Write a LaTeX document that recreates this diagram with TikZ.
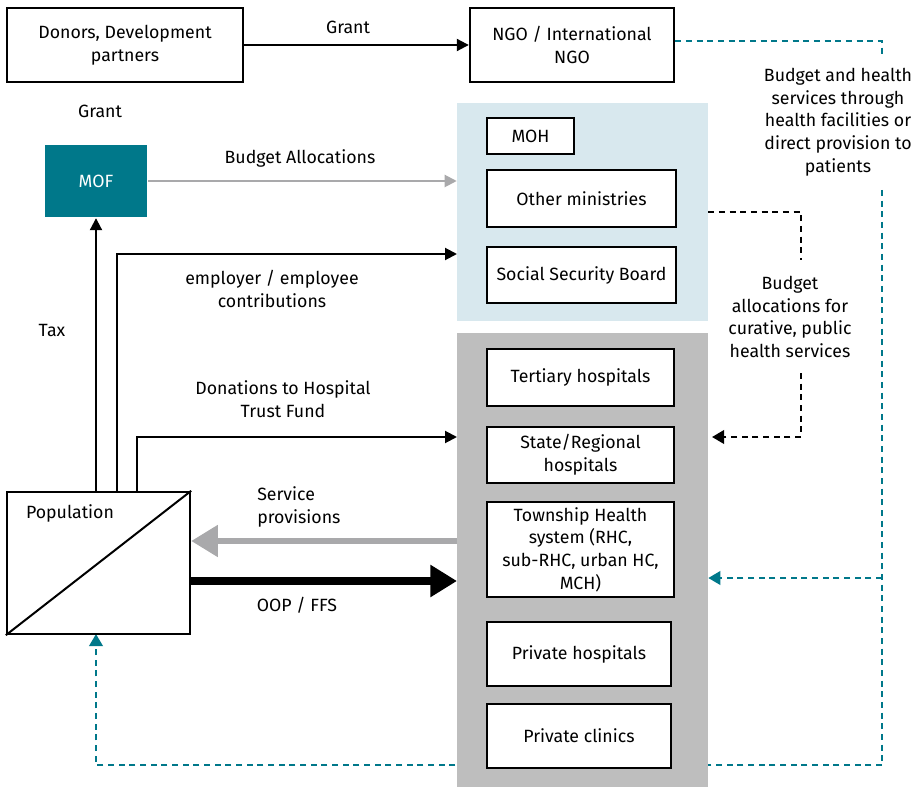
\documentclass[tikz,border=0pt]{standalone}
\usepackage{fontspec}
\setmainfont{Fira Sans}
\usepackage{tikz}
\usetikzlibrary{arrows.meta}

\definecolor{tealmof}{HTML}{00788A}
\definecolor{paleblue}{HTML}{D8E8EE}
\definecolor{panelgray}{HTML}{BEBEBE}
\definecolor{arrowgray}{HTML}{A9A9AB}

\newcommand{\px}{0.75pt}

\begin{document}
\begin{tikzpicture}[x=0.75pt,y=-0.75pt,
  font=\fontsize{13.3}{17}\selectfont,
  box/.style={draw=black,line width=1.8pt,fill=white,align=center,inner sep=1pt},
  panel/.style={draw=none,inner sep=0pt},
  lbl/.style={align=center,inner sep=0pt},
  flow/.style={line width=1.5pt,-{Triangle[length=9pt,width=9pt]}},
  grayflow/.style={draw=arrowgray,line width=1.5pt,-{Triangle[length=9pt,width=9pt]}},
  tealdash/.style={draw=tealmof,line width=1.9pt,dash pattern=on 4.5pt off 3.5pt},
  blackdash/.style={draw=black,line width=1.9pt,dash pattern=on 4.5pt off 3.5pt}]
  \tikzstyle{tip}=[-{Triangle[length=9pt,width=10pt]}]

  \useasboundingbox (0,0) rectangle (919,787);

  % teal lines that pass behind the gray panel
  \coordinate (t1) at (882,55);
  \coordinate (t2) at (882,190);
  \coordinate (t3) at (882,765);
  \coordinate (t4) at (882,578);

  % panels
  \node[panel,fill=paleblue,minimum width=251*\px,minimum height=218*\px] (bluepanel) at (582.5,212) {};
  \draw[tealdash,tip] (t3) -| (96,634);
  \node[panel,fill=panelgray,minimum width=251*\px,minimum height=454*\px] (graypanel) at (582.5,560) {};

  % boxes
  \node[box,minimum width=236*\px,minimum height=74*\px] (donors) at (125,45) {Donors, Development\\partners};
  \node[box,minimum width=204*\px,minimum height=74*\px] (ngo) at (572,45) {NGO / International\\NGO};
  \node[box,draw=none,fill=tealmof,text=white,minimum width=102*\px,minimum height=72*\px] (mof) at (96,181) {MOF};
  \node[box,minimum width=87*\px,minimum height=36*\px] (moh) at (530.5,136) {MOH};
  \node[box,minimum width=189*\px,minimum height=57*\px] (othermin) at (581.5,198.5) {Other ministries};
  \node[box,minimum width=189*\px,minimum height=56*\px] (ssb) at (581.5,275) {Social Security Board};
  \node[box,minimum width=187*\px,minimum height=57*\px] (tertiary) at (580.5,377.5) {Tertiary hospitals};
  \node[box,minimum width=187*\px,minimum height=56*\px] (state) at (580.5,455) {State/Regional\\hospitals};
  \node[box,minimum width=187*\px,minimum height=95*\px] (township) at (580.5,549.5) {Township Health\\system (RHC,\\sub-RHC, urban HC,\\MCH)};
  \node[box,minimum width=184*\px,minimum height=64*\px] (privhosp) at (579,654) {Private hospitals};
  \node[box,minimum width=184*\px,minimum height=64*\px] (clinics) at (579,736) {Private clinics};
  \node[box,minimum width=183*\px,minimum height=142*\px] (pop) at (98.5,563) {};
  \draw[line width=1.5pt] (pop.south west) -- (pop.north east);

  % labels
  \node[lbl] (grant1) at (348,27) {Grant};
  \node[lbl] (grant2) at (100,111) {Grant};
  \node[lbl] (budalloc) at (300,158) {Budget Allocations};
  \node[lbl] (employer) at (272,289) {employer / employee\\contributions};
  \node[lbl] (tax) at (52,330) {Tax};
  \node[lbl] (donations) at (283,399) {Donations to Hospital\\Trust Fund};
  \node[lbl,anchor=west,align=left] (service) at (257,507) {Service\\provisions};
  \node[lbl] (oopfee) at (297,605) {OOP / FFS};
  \node[lbl] (poplbl) at (70,513) {Population};
  \node[lbl] (ngolbl) at (838,122) {Budget and health\\services through\\health facilities or\\direct provision to\\patients};
  \node[lbl] (curlbl) at (790,317) {Budget\\allocations for\\curative, public\\health services};

  % connectors
  \coordinate (ein) at (457,254);
  \coordinate (din) at (457,437);
  \coordinate (spin) at (457,541);
  \coordinate (oopin) at (457,581);
  \coordinate (b1) at (801,260);
  \coordinate (b2) at (801,373);
  \coordinate (b3) at (712,437);

  \draw[flow] (donors.east) -- (ngo.west);
  \draw[grayflow] (mof.east) -- (mof.east -| bluepanel.west);
  \draw[flow] (pop.north -| mof.south) -- (mof.south);
  \draw[flow] ([xshift=111*\px]pop.north west) |- (ein);
  \draw[flow] ([xshift=131*\px]pop.north west) |- (din);
  \draw[draw=arrowgray,line width=4.5pt,-{Triangle[length=20pt,width=23pt]}] (spin) -- (spin -| pop.east);
  \draw[line width=6pt,-{Triangle[length=20pt,width=23pt]}] (oopin -| pop.east) -- (oopin);

  \draw[tealdash] ([yshift=4*\px]ngo.east) -| (t1);
  \draw[tealdash] (t2) -- (t3);
  \draw[tealdash,tip] (t4) -- (t4 -| graypanel.east);
  \draw[blackdash] (bluepanel.east) -| (b1);
  \draw[blackdash,tip] (b2) |- (b3);
\end{tikzpicture}
\end{document}
